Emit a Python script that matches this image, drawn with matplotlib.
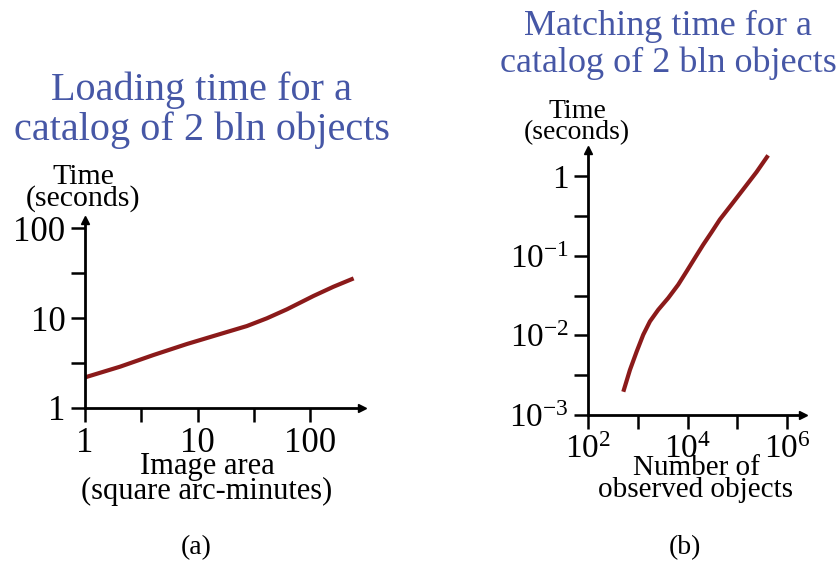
import numpy as np
import matplotlib
matplotlib.use("Agg")
import matplotlib.pyplot as plt

plt.rcParams['font.family'] = ['Liberation Serif', 'DejaVu Serif']
plt.rcParams['mathtext.fontset'] = 'custom'
plt.rcParams['mathtext.rm'] = 'Liberation Serif'
plt.rcParams['mathtext.it'] = 'Liberation Serif:italic'
plt.rcParams['mathtext.default'] = 'regular'

# ---- data ----
# (a) loading time vs image area
area = [1.0, 2.05, 4.05, 8.02, 15.85, 27.4, 41.2, 62.1, 107, 161, 243]
load_time = [2.19, 2.88, 3.88, 5.14, 6.64, 8.15, 9.93, 12.5, 17.6, 22.3, 27.6]
a_xticks = [1, 10, 100]
a_xticklabels = ["1", "10", "100"]
a_yticks = [1, 10, 100]
a_yticklabels = ["1", "10", "100"]

# (b) matching time vs number of observed objects
n_obj = [506, 689, 940, 1275, 1738, 2553, 4055, 6442, 9506, 13960, 20500,
         30200, 44360, 76300, 130600, 242700, 415000]
match_time = [0.00196, 0.00369, 0.00627, 0.0102, 0.0150, 0.0210, 0.0295, 0.0434,
              0.0638, 0.094, 0.138, 0.198, 0.286, 0.442, 0.683, 1.13, 1.83]
b_xticks = [1e2, 1e4, 1e6]
b_xticklabels = ["$10^2$", "$10^4$", "$10^6$"]
b_yticks = [1e-3, 1e-2, 1e-1, 1]
b_yticklabels = ["$10^{-3}$", "$10^{-2}$", "$10^{-1}$", "1"]

title_a = "Loading time for a\ncatalog of 2 bln objects"
title_b = "Matching time for a\ncatalog of 2 bln objects"
ylab = "Time\n(seconds)"
xlab_a = "Image area\n(square arc-minutes)"
xlab_b = "Number of\nobserved objects"

W, H = 837, 566
fig = plt.figure(figsize=(W / 100, H / 100), dpi=100)

line_color = "#8b1a1a"
title_color = "#4657a6"


def px_axes(x0, y_bottom, x1, y_top):
    return fig.add_axes([x0 / W, 1 - y_bottom / H, (x1 - x0) / W, (y_bottom - y_top) / H])


def style(ax, labelsize):
    for s in ("top", "right"):
        ax.spines[s].set_visible(False)
    for s in ("left", "bottom"):
        ax.spines[s].set_linewidth(2.0)
    ax.tick_params(which="both", direction="out", length=10, width=1.8,
                   labelsize=labelsize, pad=4)
    ax.plot(1, 0, ">", color="k", markersize=6, transform=ax.transAxes, clip_on=False)
    ax.plot(0, 1, "^", color="k", markersize=6, transform=ax.transAxes, clip_on=False)
    ax.patch.set_alpha(0)


def px(x, y):
    return x / W, 1 - y / H


# ---- panel (a) ----
axa = px_axes(85, 408, 362, 220)
axa.set_xscale("log")
axa.set_yscale("log")
axa.plot(area, load_time, color=line_color, lw=3, solid_capstyle="butt",
         solid_joinstyle="round")
axa.set_xlim(1, 10 ** 2.46)
axa.set_ylim(1, 10 ** 2.09)
axa.set_xticks(a_xticks)
axa.set_xticklabels(a_xticklabels)
axa.set_yticks(a_yticks)
axa.set_yticklabels(a_yticklabels)
axa.set_xticks([10 ** 0.5, 10 ** 1.5], minor=True)
axa.set_yticks([10 ** 0.5, 10 ** 1.5], minor=True)
axa.set_xticklabels([], minor=True)
axa.set_yticklabels([], minor=True)
style(axa, 25)

# ---- panel (b) ----
axb = px_axes(588.3, 415, 803, 150)
axb.set_xscale("log")
axb.set_yscale("log")
axb.plot(n_obj, match_time, color=line_color, lw=3, solid_capstyle="butt",
         solid_joinstyle="round")
axb.set_xlim(1e2, 10 ** 6.32)
axb.set_ylim(1e-3, 10 ** 0.33)
axb.set_xticks(b_xticks)
axb.set_xticklabels(b_xticklabels)
axb.set_yticks(b_yticks)
axb.set_yticklabels(b_yticklabels)
axb.set_xticks([1e3, 1e5], minor=True)
axb.set_yticks([10 ** -2.5, 10 ** -1.5, 10 ** -0.5], minor=True)
axb.set_xticklabels([], minor=True)
axb.set_yticklabels([], minor=True)
style(axb, 24)

# ---- texts ----
fig.text(*px(202, 110), title_a, color=title_color, fontsize=29, ha="center", va="center",
         linespacing=1.1)
fig.text(*px(668, 45), title_b, color=title_color, fontsize=26, ha="center", va="center",
         linespacing=1.15)
fig.text(*px(83, 188), ylab, fontsize=21.5, ha="center", va="center", linespacing=0.8)
fig.text(*px(577, 122), ylab, fontsize=20, ha="center", va="center", linespacing=0.8)
fig.text(*px(207, 479), xlab_a, fontsize=22, ha="center", va="center", linespacing=0.82)
fig.text(*px(696, 479), xlab_b, fontsize=21, ha="center", va="center", linespacing=0.82)
fig.text(*px(196, 548), "(a)", fontsize=20, ha="center", va="center")
fig.text(*px(685, 548), "(b)", fontsize=20, ha="center", va="center")

fig.savefig("out.png", dpi=100)
